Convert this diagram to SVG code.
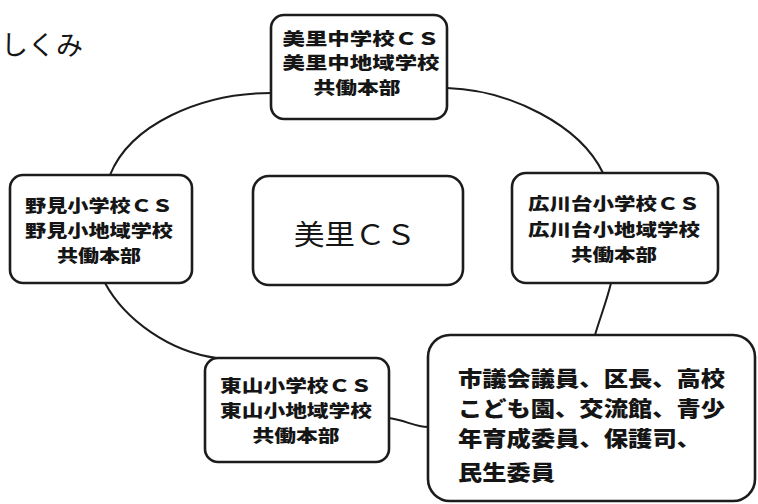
<svg xmlns="http://www.w3.org/2000/svg" width="758" height="504" viewBox="0 0 758 504">
<style>
.box{fill:#ffffff;stroke:#1c1c1c;stroke-width:2.6}
.conn{fill:none;stroke:#1c1c1c;stroke-width:2}
.t{font-family:"Noto Sans CJK JP","Noto Sans CJK SC",sans-serif;font-weight:900;font-size:17px;fill:#151515;text-anchor:middle}
.big{font-family:"Noto Sans CJK JP","Noto Sans CJK SC",sans-serif;font-weight:900;font-size:21px;fill:#151515}
.center{font-family:"Noto Sans CJK JP","Noto Sans CJK SC",sans-serif;font-size:28px;fill:#151515;text-anchor:middle}
.title{font-family:"Noto Sans CJK JP","Noto Sans CJK SC",sans-serif;font-size:27px;fill:#151515}
</style>
<rect width="758" height="504" fill="#ffffff"/>
<text class="title" x="1" y="55" textLength="82" lengthAdjust="spacingAndGlyphs">しくみ</text>
<g id="connectors">
<path class="conn" d="M271,93 C200,93 130,125 110,175"/>
<path class="conn" d="M105,283 C125,320 170,352 217,358"/>
<path class="conn" d="M389,418 C405,420 415,427 428,427"/>
<path class="conn" d="M611,283 C607,300 600,318 595,335"/>
<path class="conn" d="M447,88 C510,90 580,125 603,173"/>
</g>
<g id="node-misato-chu">
<rect class="box" x="271" y="15" width="176" height="104" rx="13"/>
<text class="t" x="361" y="45" textLength="157" lengthAdjust="spacingAndGlyphs">美里中学校ＣＳ</text>
<text class="t" x="361" y="69" textLength="157" lengthAdjust="spacingAndGlyphs">美里中地域学校</text>
<text class="t" x="357" y="94" textLength="87" lengthAdjust="spacingAndGlyphs">共働本部</text>
</g>
<g id="node-nomi">
<rect class="box" x="10" y="175" width="182" height="108" rx="13"/>
<text class="t" x="99" y="212" textLength="148" lengthAdjust="spacingAndGlyphs">野見小学校ＣＳ</text>
<text class="t" x="99" y="237" textLength="148" lengthAdjust="spacingAndGlyphs">野見小地域学校</text>
<text class="t" x="99" y="262" textLength="84" lengthAdjust="spacingAndGlyphs">共働本部</text>
</g>
<g id="node-misato-cs">
<rect class="box" x="253" y="176" width="210" height="109" rx="16"/>
<text class="center" x="355" y="245" textLength="122" lengthAdjust="spacingAndGlyphs">美里ＣＳ</text>
</g>
<g id="node-hirokawadai">
<rect class="box" x="512" y="173" width="206" height="110" rx="14"/>
<text class="t" x="614" y="210" textLength="172" lengthAdjust="spacingAndGlyphs">広川台小学校ＣＳ</text>
<text class="t" x="614" y="236" textLength="172" lengthAdjust="spacingAndGlyphs">広川台小地域学校</text>
<text class="t" x="614" y="261" textLength="86" lengthAdjust="spacingAndGlyphs">共働本部</text>
</g>
<g id="node-higashiyama">
<rect class="box" x="205" y="358" width="184" height="104" rx="13"/>
<text class="t" x="296" y="392" textLength="152" lengthAdjust="spacingAndGlyphs">東山小学校ＣＳ</text>
<text class="t" x="296" y="417" textLength="152" lengthAdjust="spacingAndGlyphs">東山小地域学校</text>
<text class="t" x="296" y="442" textLength="87" lengthAdjust="spacingAndGlyphs">共働本部</text>
</g>
<g id="node-community">
<rect class="box" x="428" y="335" width="327" height="166" rx="22"/>
<text class="big" x="458" y="386" textLength="267" lengthAdjust="spacingAndGlyphs">市議会議員、区長、高校</text>
<text class="big" x="458" y="416" textLength="267" lengthAdjust="spacingAndGlyphs">こども園、交流館、青少</text>
<text class="big" x="458" y="446" textLength="243" lengthAdjust="spacingAndGlyphs">年育成委員、保護司、</text>
<text class="big" x="458" y="480" textLength="97" lengthAdjust="spacingAndGlyphs">民生委員</text>
</g>
</svg>
